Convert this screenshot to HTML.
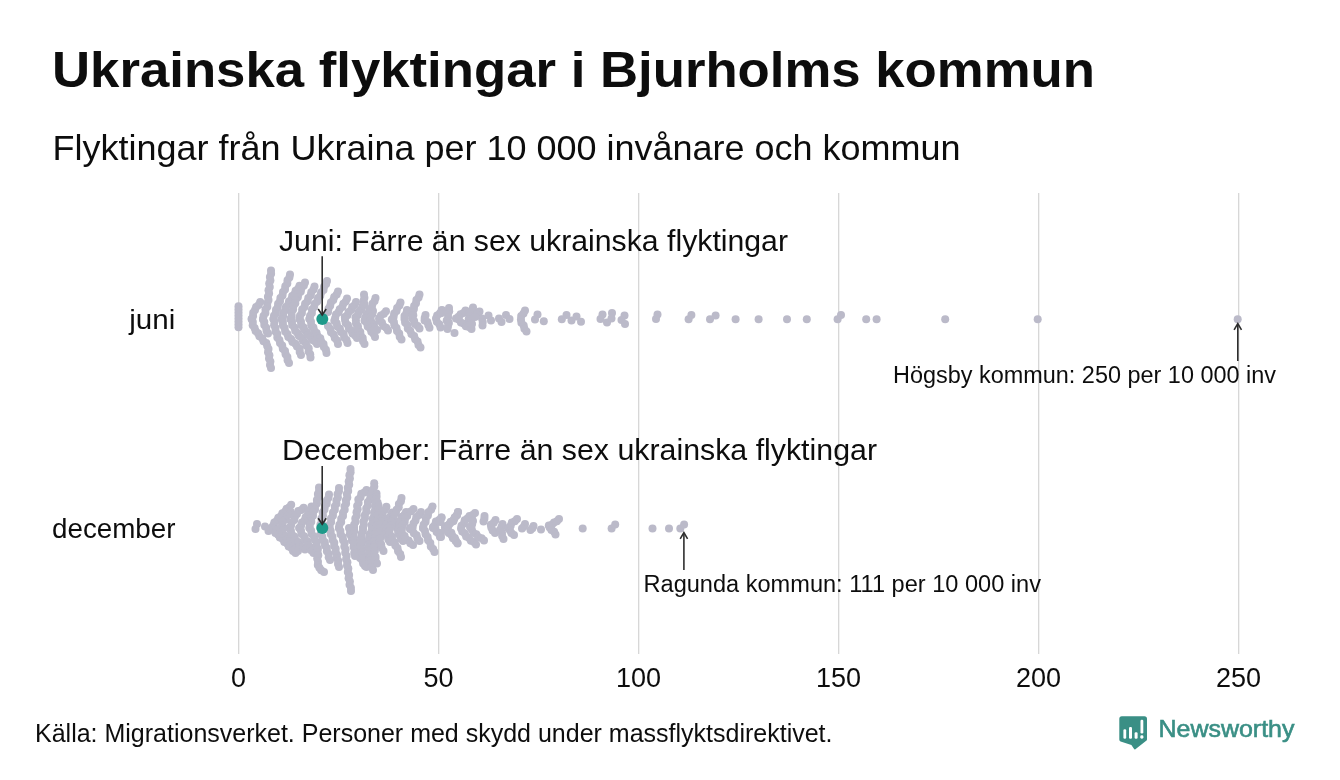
<!DOCTYPE html>
<html lang="sv">
<head>
<meta charset="utf-8">
<title>Ukrainska flyktingar i Bjurholms kommun</title>
<style>
  html, body { margin: 0; padding: 0; background: #ffffff; }
  body { width: 1340px; height: 780px; overflow: hidden; font-family: "Liberation Sans", sans-serif; }
  svg { display: block; will-change: transform; }
  text { font-family: "Liberation Sans", sans-serif; fill: #0d0d0d; }
  .grid line { stroke: #d3d3d3; stroke-width: 1.2; }
  .ann { stroke: #2e2e2e; stroke-width: 1.6; fill: none; }
  .sw { stroke: #bab9c9; stroke-width: 7.4; stroke-linecap: round; stroke-linejoin: round; fill: none; }
  .dots circle { fill: #bbbac9; }
</style>
</head>
<body>
<svg width="1340" height="780" viewBox="0 0 1340 780">
  <rect x="0" y="0" width="1340" height="780" fill="#ffffff"/>

  <!-- Title and subtitle -->
  <text x="52" y="87.4" font-size="50" font-weight="bold" textLength="1043" lengthAdjust="spacingAndGlyphs">Ukrainska flyktingar i Bjurholms kommun</text>
  <text x="52.5" y="160.4" font-size="34.5" textLength="908" lengthAdjust="spacingAndGlyphs">Flyktingar från Ukraina per 10 000 invånare och kommun</text>

  <!-- Gridlines -->
  <g class="grid">
    <line x1="238.7" y1="193" x2="238.7" y2="654"/>
    <line x1="438.7" y1="193" x2="438.7" y2="654"/>
    <line x1="638.7" y1="193" x2="638.7" y2="654"/>
    <line x1="838.7" y1="193" x2="838.7" y2="654"/>
    <line x1="1038.7" y1="193" x2="1038.7" y2="654"/>
    <line x1="1238.7" y1="193" x2="1238.7" y2="654"/>
  </g>

  <!-- X tick labels -->
  <g font-size="27" text-anchor="middle">
    <text x="238.6" y="686.5">0</text>
    <text x="438.6" y="686.5">50</text>
    <text x="638.6" y="686.5">100</text>
    <text x="838.6" y="686.5">150</text>
    <text x="1038.6" y="686.5">200</text>
    <text x="1238.6" y="686.5">250</text>
  </g>

  <!-- Row labels -->
  <text x="129.3" y="328.8" font-size="27" textLength="46" lengthAdjust="spacingAndGlyphs">juni</text>
  <text x="52" y="537.6" font-size="27" textLength="123.5" lengthAdjust="spacingAndGlyphs">december</text>

  <!-- SWARM-JUNI -->
  <g class="dots"><circle cx="260.2" cy="302.0" r="4.00"/><circle cx="258.7" cy="304.9" r="4.00"/><circle cx="256.1" cy="307.0" r="4.00"/><circle cx="255.0" cy="310.1" r="4.00"/><circle cx="253.2" cy="312.7" r="4.00"/><circle cx="253.1" cy="316.1" r="4.00"/><circle cx="251.7" cy="319.0" r="4.00"/><circle cx="251.7" cy="319.0" r="4.00"/><circle cx="252.8" cy="322.0" r="4.00"/><circle cx="252.7" cy="325.3" r="4.00"/><circle cx="254.6" cy="327.9" r="4.00"/><circle cx="255.6" cy="331.1" r="4.00"/><circle cx="258.1" cy="333.3" r="4.00"/><circle cx="259.4" cy="336.3" r="4.00"/><circle cx="262.1" cy="338.2" r="4.00"/><circle cx="263.5" cy="341.2" r="4.00"/><circle cx="266.3" cy="343.0" r="4.00"/><circle cx="267.2" cy="346.0" r="4.00"/><circle cx="268.5" cy="349.0" r="4.00"/><circle cx="268.0" cy="352.3" r="4.00"/><circle cx="269.4" cy="355.3" r="4.00"/><circle cx="269.0" cy="358.6" r="4.00"/><circle cx="270.4" cy="361.6" r="4.00"/><circle cx="270.0" cy="364.9" r="4.00"/><circle cx="271.0" cy="368.0" r="4.00"/><circle cx="271.0" cy="270.5" r="4.00"/><circle cx="271.1" cy="273.8" r="4.00"/><circle cx="269.9" cy="277.0" r="4.00"/><circle cx="270.4" cy="280.4" r="4.00"/><circle cx="269.2" cy="283.6" r="4.00"/><circle cx="269.8" cy="287.0" r="4.00"/><circle cx="268.5" cy="290.2" r="4.00"/><circle cx="269.1" cy="293.6" r="4.00"/><circle cx="267.9" cy="296.8" r="4.00"/><circle cx="268.5" cy="300.1" r="4.00"/><circle cx="267.3" cy="303.3" r="4.00"/><circle cx="267.3" cy="306.7" r="4.00"/><circle cx="265.5" cy="309.6" r="4.00"/><circle cx="265.4" cy="313.0" r="4.00"/><circle cx="263.5" cy="315.9" r="4.00"/><circle cx="263.0" cy="319.2" r="4.00"/><circle cx="263.0" cy="319.2" r="4.00"/><circle cx="264.3" cy="322.0" r="4.00"/><circle cx="264.3" cy="325.1" r="4.00"/><circle cx="266.2" cy="327.7" r="4.00"/><circle cx="266.5" cy="330.9" r="4.00"/><circle cx="268.0" cy="333.5" r="4.00"/><circle cx="290.0" cy="274.5" r="4.00"/><circle cx="289.4" cy="277.6" r="4.00"/><circle cx="287.5" cy="280.3" r="4.00"/><circle cx="287.3" cy="283.6" r="4.00"/><circle cx="285.3" cy="286.3" r="4.00"/><circle cx="285.0" cy="289.5" r="4.00"/><circle cx="283.0" cy="292.1" r="4.00"/><circle cx="282.5" cy="295.4" r="4.00"/><circle cx="280.4" cy="297.9" r="4.00"/><circle cx="280.0" cy="301.2" r="4.00"/><circle cx="278.1" cy="303.8" r="4.00"/><circle cx="277.8" cy="307.1" r="4.00"/><circle cx="276.0" cy="309.8" r="4.00"/><circle cx="275.8" cy="313.1" r="4.00"/><circle cx="274.0" cy="315.8" r="4.00"/><circle cx="273.5" cy="319.0" r="4.00"/><circle cx="273.5" cy="319.0" r="4.00"/><circle cx="274.5" cy="322.0" r="4.00"/><circle cx="274.1" cy="325.2" r="4.00"/><circle cx="275.5" cy="328.1" r="4.00"/><circle cx="275.5" cy="331.4" r="4.00"/><circle cx="277.3" cy="334.1" r="4.00"/><circle cx="277.3" cy="337.4" r="4.00"/><circle cx="279.4" cy="339.9" r="4.00"/><circle cx="280.0" cy="343.1" r="4.00"/><circle cx="282.2" cy="345.5" r="4.00"/><circle cx="282.8" cy="348.7" r="4.00"/><circle cx="285.0" cy="351.1" r="4.00"/><circle cx="285.6" cy="354.2" r="4.00"/><circle cx="287.4" cy="356.9" r="4.00"/><circle cx="287.6" cy="360.2" r="4.00"/><circle cx="289.0" cy="363.0" r="4.00"/><circle cx="299.5" cy="285.8" r="4.00"/><circle cx="298.1" cy="288.7" r="4.00"/><circle cx="295.6" cy="290.8" r="4.00"/><circle cx="294.6" cy="293.9" r="4.00"/><circle cx="292.2" cy="296.1" r="4.00"/><circle cx="291.4" cy="299.3" r="4.00"/><circle cx="289.0" cy="301.5" r="4.00"/><circle cx="288.2" cy="304.7" r="4.00"/><circle cx="285.9" cy="307.1" r="4.00"/><circle cx="285.3" cy="310.3" r="4.00"/><circle cx="283.2" cy="312.9" r="4.00"/><circle cx="283.1" cy="316.1" r="4.00"/><circle cx="281.7" cy="319.0" r="4.00"/><circle cx="281.7" cy="319.0" r="4.00"/><circle cx="282.9" cy="322.0" r="4.00"/><circle cx="282.9" cy="325.3" r="4.00"/><circle cx="284.6" cy="328.1" r="4.00"/><circle cx="285.2" cy="331.4" r="4.00"/><circle cx="287.4" cy="333.9" r="4.00"/><circle cx="288.3" cy="337.1" r="4.00"/><circle cx="291.1" cy="339.0" r="4.00"/><circle cx="292.5" cy="342.0" r="4.00"/><circle cx="295.4" cy="343.7" r="4.00"/><circle cx="297.0" cy="346.6" r="4.00"/><circle cx="299.7" cy="348.7" r="4.00"/><circle cx="299.7" cy="352.0" r="4.00"/><circle cx="301.0" cy="355.0" r="4.00"/><circle cx="305.0" cy="282.5" r="4.00"/><circle cx="303.9" cy="285.6" r="4.00"/><circle cx="301.5" cy="288.1" r="4.00"/><circle cx="300.8" cy="291.4" r="4.00"/><circle cx="298.5" cy="294.0" r="4.00"/><circle cx="297.8" cy="297.3" r="4.00"/><circle cx="295.6" cy="299.9" r="4.00"/><circle cx="295.3" cy="303.3" r="4.00"/><circle cx="293.4" cy="306.1" r="4.00"/><circle cx="293.1" cy="309.5" r="4.00"/><circle cx="291.5" cy="312.5" r="4.00"/><circle cx="291.7" cy="315.9" r="4.00"/><circle cx="290.5" cy="319.0" r="4.00"/><circle cx="290.5" cy="319.0" r="4.00"/><circle cx="292.0" cy="321.8" r="4.00"/><circle cx="292.2" cy="325.1" r="4.00"/><circle cx="294.4" cy="327.5" r="4.00"/><circle cx="295.2" cy="330.7" r="4.00"/><circle cx="297.5" cy="332.9" r="4.00"/><circle cx="298.9" cy="335.9" r="4.00"/><circle cx="301.6" cy="337.7" r="4.00"/><circle cx="302.9" cy="340.7" r="4.00"/><circle cx="305.5" cy="342.7" r="4.00"/><circle cx="306.6" cy="345.8" r="4.00"/><circle cx="308.7" cy="348.2" r="4.00"/><circle cx="308.6" cy="351.5" r="4.00"/><circle cx="310.2" cy="354.3" r="4.00"/><circle cx="310.5" cy="357.5" r="4.00"/><circle cx="314.5" cy="286.5" r="4.00"/><circle cx="313.5" cy="289.6" r="4.00"/><circle cx="311.3" cy="292.2" r="4.00"/><circle cx="310.7" cy="295.5" r="4.00"/><circle cx="308.3" cy="298.0" r="4.00"/><circle cx="307.5" cy="301.2" r="4.00"/><circle cx="305.1" cy="303.7" r="4.00"/><circle cx="304.5" cy="307.0" r="4.00"/><circle cx="302.2" cy="309.5" r="4.00"/><circle cx="301.9" cy="312.9" r="4.00"/><circle cx="300.0" cy="315.8" r="4.00"/><circle cx="299.5" cy="319.0" r="4.00"/><circle cx="299.5" cy="319.0" r="4.00"/><circle cx="301.0" cy="321.8" r="4.00"/><circle cx="301.2" cy="325.0" r="4.00"/><circle cx="303.4" cy="327.2" r="4.00"/><circle cx="304.5" cy="330.3" r="4.00"/><circle cx="307.0" cy="332.3" r="4.00"/><circle cx="308.3" cy="335.2" r="4.00"/><circle cx="311.0" cy="337.0" r="4.00"/><circle cx="312.3" cy="339.9" r="4.00"/><circle cx="315.1" cy="341.5" r="4.00"/><circle cx="317.0" cy="344.0" r="4.00"/><circle cx="327.0" cy="281.0" r="4.00"/><circle cx="326.1" cy="284.1" r="4.00"/><circle cx="324.0" cy="286.7" r="4.00"/><circle cx="323.5" cy="290.0" r="4.00"/><circle cx="321.1" cy="292.5" r="4.00"/><circle cx="320.3" cy="295.7" r="4.00"/><circle cx="318.0" cy="298.1" r="4.00"/><circle cx="317.2" cy="301.4" r="4.00"/><circle cx="314.8" cy="303.8" r="4.00"/><circle cx="314.1" cy="307.0" r="4.00"/><circle cx="312.0" cy="309.6" r="4.00"/><circle cx="311.9" cy="313.0" r="4.00"/><circle cx="310.1" cy="315.8" r="4.00"/><circle cx="309.5" cy="319.0" r="4.00"/><circle cx="309.5" cy="319.0" r="4.00"/><circle cx="311.0" cy="321.8" r="4.00"/><circle cx="311.2" cy="325.2" r="4.00"/><circle cx="313.4" cy="327.6" r="4.00"/><circle cx="314.2" cy="330.8" r="4.00"/><circle cx="316.6" cy="333.1" r="4.00"/><circle cx="317.7" cy="336.2" r="4.00"/><circle cx="320.3" cy="338.3" r="4.00"/><circle cx="321.2" cy="341.4" r="4.00"/><circle cx="323.5" cy="343.9" r="4.00"/><circle cx="323.9" cy="347.1" r="4.00"/><circle cx="325.9" cy="349.8" r="4.00"/><circle cx="326.5" cy="353.0" r="4.00"/><circle cx="338.0" cy="291.5" r="4.00"/><circle cx="336.7" cy="294.5" r="4.00"/><circle cx="334.2" cy="296.9" r="4.00"/><circle cx="333.3" cy="300.1" r="4.00"/><circle cx="330.9" cy="302.5" r="4.00"/><circle cx="330.2" cy="305.8" r="4.00"/><circle cx="328.5" cy="308.7" r="4.00"/><circle cx="328.0" cy="312.0" r="4.00"/><circle cx="328.0" cy="326.0" r="4.00"/><circle cx="330.1" cy="328.8" r="4.00"/><circle cx="331.0" cy="332.2" r="4.00"/><circle cx="333.6" cy="334.6" r="4.00"/><circle cx="334.8" cy="338.0" r="4.00"/><circle cx="337.1" cy="340.6" r="4.00"/><circle cx="338.0" cy="344.0" r="4.00"/><circle cx="347.0" cy="298.5" r="4.00"/><circle cx="345.7" cy="301.5" r="4.00"/><circle cx="343.3" cy="303.8" r="4.00"/><circle cx="342.3" cy="307.1" r="4.00"/><circle cx="339.7" cy="309.2" r="4.00"/><circle cx="338.5" cy="312.3" r="4.00"/><circle cx="336.0" cy="314.6" r="4.00"/><circle cx="335.2" cy="317.9" r="4.00"/><circle cx="334.3" cy="320.7" r="4.00"/><circle cx="336.6" cy="323.2" r="4.00"/><circle cx="337.3" cy="326.5" r="4.00"/><circle cx="339.9" cy="328.7" r="4.00"/><circle cx="341.0" cy="331.9" r="4.00"/><circle cx="343.6" cy="334.1" r="4.00"/><circle cx="344.2" cy="337.4" r="4.00"/><circle cx="346.5" cy="339.9" r="4.00"/><circle cx="347.5" cy="343.0" r="4.00"/><circle cx="356.0" cy="302.0" r="4.00"/><circle cx="354.7" cy="304.9" r="4.00"/><circle cx="352.2" cy="307.0" r="4.00"/><circle cx="351.2" cy="310.1" r="4.00"/><circle cx="348.6" cy="312.1" r="4.00"/><circle cx="347.4" cy="315.2" r="4.00"/><circle cx="344.8" cy="317.1" r="4.00"/><circle cx="345.0" cy="319.8" r="4.00"/><circle cx="345.7" cy="323.0" r="4.00"/><circle cx="348.0" cy="325.3" r="4.00"/><circle cx="348.9" cy="328.4" r="4.00"/><circle cx="351.4" cy="330.5" r="4.00"/><circle cx="352.5" cy="333.6" r="4.00"/><circle cx="355.1" cy="335.5" r="4.00"/><circle cx="357.0" cy="338.0" r="4.00"/><circle cx="364.0" cy="294.5" r="4.00"/><circle cx="364.4" cy="297.7" r="4.00"/><circle cx="363.6" cy="300.8" r="4.00"/><circle cx="364.4" cy="304.0" r="4.00"/><circle cx="362.4" cy="306.5" r="4.00"/><circle cx="361.3" cy="309.6" r="4.00"/><circle cx="358.7" cy="311.7" r="4.00"/><circle cx="357.9" cy="314.9" r="4.00"/><circle cx="355.5" cy="317.2" r="4.00"/><circle cx="355.9" cy="320.2" r="4.00"/><circle cx="356.0" cy="323.5" r="4.00"/><circle cx="357.9" cy="326.2" r="4.00"/><circle cx="358.2" cy="329.5" r="4.00"/><circle cx="360.3" cy="332.0" r="4.00"/><circle cx="360.7" cy="335.3" r="4.00"/><circle cx="362.7" cy="337.9" r="4.00"/><circle cx="363.0" cy="341.2" r="4.00"/><circle cx="364.5" cy="344.0" r="4.00"/><circle cx="375.5" cy="298.0" r="4.00"/><circle cx="374.6" cy="301.1" r="4.00"/><circle cx="372.5" cy="303.7" r="4.00"/><circle cx="371.9" cy="307.0" r="4.00"/><circle cx="369.5" cy="309.4" r="4.00"/><circle cx="368.7" cy="312.6" r="4.00"/><circle cx="366.2" cy="314.9" r="4.00"/><circle cx="365.2" cy="318.0" r="4.00"/><circle cx="364.5" cy="320.8" r="4.00"/><circle cx="366.9" cy="323.1" r="4.00"/><circle cx="367.7" cy="326.4" r="4.00"/><circle cx="370.2" cy="328.6" r="4.00"/><circle cx="371.3" cy="331.7" r="4.00"/><circle cx="373.7" cy="334.0" r="4.00"/><circle cx="375.0" cy="337.0" r="4.00"/><circle cx="373.0" cy="311.0" r="4.00"/><circle cx="372.3" cy="314.0" r="4.00"/><circle cx="370.4" cy="316.6" r="4.00"/><circle cx="370.7" cy="319.4" r="4.00"/><circle cx="371.5" cy="322.5" r="4.00"/><circle cx="373.8" cy="324.8" r="4.00"/><circle cx="374.8" cy="327.8" r="4.00"/><circle cx="377.0" cy="330.0" r="4.00"/><circle cx="386.0" cy="311.3" r="4.00"/><circle cx="383.9" cy="313.8" r="4.00"/><circle cx="380.9" cy="315.4" r="4.00"/><circle cx="379.1" cy="318.3" r="4.00"/><circle cx="379.3" cy="320.7" r="4.00"/><circle cx="382.0" cy="322.7" r="4.00"/><circle cx="383.3" cy="325.9" r="4.00"/><circle cx="386.2" cy="327.8" r="4.00"/><circle cx="388.0" cy="330.5" r="4.00"/><circle cx="400.5" cy="302.5" r="4.00"/><circle cx="399.4" cy="305.5" r="4.00"/><circle cx="397.1" cy="307.9" r="4.00"/><circle cx="396.5" cy="311.1" r="4.00"/><circle cx="394.2" cy="313.5" r="4.00"/><circle cx="393.6" cy="316.8" r="4.00"/><circle cx="391.8" cy="319.6" r="4.00"/><circle cx="393.9" cy="322.1" r="4.00"/><circle cx="394.4" cy="325.3" r="4.00"/><circle cx="396.5" cy="327.9" r="4.00"/><circle cx="397.0" cy="331.1" r="4.00"/><circle cx="399.2" cy="333.6" r="4.00"/><circle cx="399.7" cy="336.8" r="4.00"/><circle cx="401.5" cy="339.5" r="4.00"/><circle cx="407.0" cy="310.0" r="4.00"/><circle cx="406.4" cy="313.2" r="4.00"/><circle cx="404.5" cy="316.1" r="4.00"/><circle cx="404.5" cy="319.1" r="4.00"/><circle cx="405.1" cy="322.5" r="4.00"/><circle cx="407.3" cy="325.1" r="4.00"/><circle cx="407.8" cy="328.4" r="4.00"/><circle cx="410.2" cy="330.8" r="4.00"/><circle cx="411.4" cy="334.0" r="4.00"/><circle cx="414.1" cy="336.0" r="4.00"/><circle cx="415.2" cy="339.2" r="4.00"/><circle cx="417.6" cy="341.6" r="4.00"/><circle cx="418.5" cy="344.9" r="4.00"/><circle cx="420.5" cy="347.5" r="4.00"/><circle cx="419.5" cy="294.5" r="4.00"/><circle cx="418.6" cy="297.5" r="4.00"/><circle cx="416.4" cy="300.0" r="4.00"/><circle cx="416.0" cy="303.2" r="4.00"/><circle cx="414.1" cy="305.9" r="4.00"/><circle cx="413.9" cy="309.1" r="4.00"/><circle cx="412.7" cy="312.1" r="4.00"/><circle cx="413.3" cy="315.3" r="4.00"/><circle cx="412.1" cy="318.3" r="4.00"/><circle cx="414.1" cy="320.9" r="4.00"/><circle cx="414.9" cy="324.1" r="4.00"/><circle cx="417.6" cy="326.0" r="4.00"/><circle cx="419.5" cy="328.5" r="4.00"/><circle cx="425.5" cy="315.0" r="4.00"/><circle cx="424.7" cy="318.0" r="4.00"/><circle cx="424.6" cy="320.6" r="4.00"/><circle cx="427.4" cy="322.1" r="4.00"/><circle cx="428.3" cy="325.0" r="4.00"/><circle cx="429.5" cy="327.8" r="4.00"/><circle cx="441.5" cy="310.5" r="4.00"/><circle cx="439.8" cy="313.5" r="4.00"/><circle cx="437.1" cy="315.6" r="4.00"/><circle cx="436.0" cy="318.4" r="4.00"/><circle cx="436.8" cy="321.8" r="4.00"/><circle cx="439.3" cy="324.3" r="4.00"/><circle cx="440.5" cy="327.5" r="4.00"/><circle cx="449.0" cy="308.0" r="4.00"/><circle cx="449.2" cy="311.2" r="4.00"/><circle cx="448.0" cy="314.1" r="4.00"/><circle cx="448.1" cy="317.4" r="4.00"/><circle cx="446.7" cy="320.5" r="4.00"/><circle cx="448.9" cy="322.9" r="4.00"/><circle cx="448.0" cy="325.9" r="4.00"/><circle cx="447.5" cy="329.0" r="4.00"/><circle cx="442.0" cy="310.0" r="4.00"/><circle cx="441.5" cy="313.0" r="4.00"/><circle cx="465.5" cy="310.5" r="4.00"/><circle cx="463.5" cy="312.9" r="4.00"/><circle cx="460.6" cy="314.3" r="4.00"/><circle cx="458.5" cy="316.8" r="4.00"/><circle cx="456.0" cy="318.6" r="4.00"/><circle cx="459.0" cy="319.8" r="4.00"/><circle cx="460.9" cy="322.5" r="4.00"/><circle cx="463.9" cy="323.7" r="4.00"/><circle cx="465.9" cy="326.2" r="4.00"/><circle cx="469.0" cy="327.0" r="4.00"/><circle cx="471.5" cy="329.0" r="4.00"/><circle cx="473.0" cy="307.5" r="4.00"/><circle cx="471.9" cy="310.4" r="4.00"/><circle cx="469.7" cy="312.6" r="4.00"/><circle cx="469.9" cy="315.8" r="4.00"/><circle cx="468.7" cy="318.9" r="4.00"/><circle cx="470.9" cy="321.1" r="4.00"/><circle cx="472.0" cy="324.0" r="4.00"/><circle cx="479.5" cy="311.5" r="4.00"/><circle cx="477.6" cy="314.5" r="4.00"/><circle cx="475.0" cy="317.0" r="4.00"/><circle cx="482.0" cy="318.5" r="4.00"/><circle cx="482.7" cy="322.0" r="4.00"/><circle cx="482.5" cy="325.5" r="4.00"/><circle cx="525.0" cy="310.5" r="4.00"/><circle cx="523.5" cy="313.6" r="4.00"/><circle cx="521.2" cy="316.1" r="4.00"/><circle cx="520.9" cy="319.6" r="4.00"/><circle cx="521.4" cy="322.7" r="4.00"/><circle cx="523.7" cy="325.4" r="4.00"/><circle cx="524.4" cy="328.8" r="4.00"/><circle cx="526.5" cy="331.5" r="4.00"/><circle cx="238.5" cy="306.3" r="4.00"/><circle cx="238.5" cy="309.3" r="4.00"/><circle cx="238.5" cy="312.3" r="4.00"/><circle cx="238.5" cy="315.3" r="4.00"/><circle cx="238.5" cy="318.3" r="4.00"/><circle cx="238.5" cy="321.3" r="4.00"/><circle cx="238.5" cy="324.3" r="4.00"/><circle cx="238.5" cy="327.3" r="4.00"/><circle cx="454.5" cy="333.0" r="4.00"/><circle cx="488.5" cy="315.5" r="4.00"/><circle cx="491.0" cy="320.5" r="4.00"/><circle cx="499.0" cy="318.5" r="4.00"/><circle cx="501.5" cy="322.0" r="4.00"/><circle cx="506.0" cy="315.0" r="4.00"/><circle cx="509.5" cy="319.0" r="4.00"/><circle cx="537.5" cy="314.5" r="4.00"/><circle cx="535.0" cy="319.5" r="4.00"/><circle cx="543.8" cy="321.2" r="4.00"/><circle cx="561.8" cy="319.3" r="4.00"/><circle cx="566.5" cy="315.0" r="4.00"/><circle cx="571.5" cy="320.5" r="4.00"/><circle cx="576.5" cy="316.5" r="4.00"/><circle cx="581.0" cy="321.8" r="4.00"/><circle cx="600.5" cy="319.0" r="4.00"/><circle cx="602.5" cy="314.5" r="4.00"/><circle cx="607.0" cy="322.5" r="4.00"/><circle cx="612.0" cy="313.0" r="4.00"/><circle cx="611.5" cy="318.5" r="4.00"/><circle cx="624.5" cy="315.5" r="4.00"/><circle cx="621.5" cy="320.0" r="4.00"/><circle cx="625.0" cy="324.0" r="4.00"/><circle cx="657.5" cy="314.5" r="4.00"/><circle cx="656.0" cy="319.0" r="4.00"/><circle cx="688.6" cy="319.2" r="4.00"/><circle cx="691.4" cy="315.0" r="4.00"/><circle cx="710.0" cy="319.2" r="4.00"/><circle cx="715.6" cy="315.4" r="4.00"/><circle cx="735.6" cy="319.2" r="4.00"/><circle cx="758.6" cy="319.2" r="4.00"/><circle cx="787.0" cy="319.2" r="4.00"/><circle cx="806.8" cy="319.2" r="4.00"/><circle cx="837.6" cy="319.2" r="4.00"/><circle cx="841.0" cy="315.0" r="4.00"/><circle cx="866.2" cy="319.2" r="4.00"/><circle cx="876.6" cy="319.2" r="4.00"/><circle cx="945.2" cy="319.2" r="4.00"/><circle cx="1037.7" cy="319.2" r="4.00"/><circle cx="1237.7" cy="319.2" r="4.00"/></g>
  <!-- /SWARM-JUNI -->
  <!-- SWARM-DEC -->
  <g class="dots"><circle cx="291.2" cy="504.8" r="4.00"/><circle cx="289.4" cy="507.3" r="4.00"/><circle cx="286.6" cy="508.8" r="4.00"/><circle cx="285.1" cy="511.6" r="4.00"/><circle cx="282.4" cy="513.3" r="4.00"/><circle cx="281.0" cy="516.1" r="4.00"/><circle cx="278.3" cy="517.8" r="4.00"/><circle cx="276.9" cy="520.7" r="4.00"/><circle cx="274.3" cy="522.5" r="4.00"/><circle cx="273.3" cy="525.5" r="4.00"/><circle cx="271.5" cy="528.0" r="4.00"/><circle cx="271.5" cy="528.0" r="4.00"/><circle cx="273.9" cy="530.0" r="4.00"/><circle cx="275.4" cy="533.0" r="4.00"/><circle cx="278.1" cy="534.7" r="4.00"/><circle cx="279.8" cy="537.5" r="4.00"/><circle cx="282.7" cy="539.1" r="4.00"/><circle cx="284.3" cy="542.0" r="4.00"/><circle cx="287.2" cy="543.5" r="4.00"/><circle cx="288.7" cy="546.4" r="4.00"/><circle cx="291.5" cy="548.1" r="4.00"/><circle cx="293.0" cy="551.0" r="4.00"/><circle cx="295.5" cy="553.0" r="4.00"/><circle cx="290.5" cy="511.5" r="4.00"/><circle cx="289.0" cy="514.4" r="4.00"/><circle cx="286.4" cy="516.5" r="4.00"/><circle cx="285.2" cy="519.7" r="4.00"/><circle cx="282.6" cy="521.9" r="4.00"/><circle cx="282.2" cy="525.2" r="4.00"/><circle cx="280.5" cy="528.0" r="4.00"/><circle cx="280.5" cy="528.0" r="4.00"/><circle cx="282.3" cy="530.7" r="4.00"/><circle cx="283.0" cy="534.0" r="4.00"/><circle cx="285.7" cy="536.1" r="4.00"/><circle cx="287.0" cy="539.2" r="4.00"/><circle cx="289.7" cy="541.1" r="4.00"/><circle cx="291.1" cy="544.2" r="4.00"/><circle cx="293.8" cy="546.1" r="4.00"/><circle cx="295.4" cy="549.0" r="4.00"/><circle cx="298.0" cy="551.0" r="4.00"/><circle cx="303.6" cy="507.7" r="4.00"/><circle cx="301.3" cy="510.0" r="4.00"/><circle cx="298.2" cy="511.1" r="4.00"/><circle cx="297.0" cy="514.1" r="4.00"/><circle cx="294.9" cy="516.7" r="4.00"/><circle cx="294.3" cy="520.0" r="4.00"/><circle cx="291.8" cy="522.2" r="4.00"/><circle cx="291.0" cy="525.4" r="4.00"/><circle cx="289.0" cy="528.0" r="4.00"/><circle cx="289.0" cy="528.0" r="4.00"/><circle cx="290.9" cy="530.8" r="4.00"/><circle cx="291.7" cy="534.3" r="4.00"/><circle cx="294.3" cy="536.6" r="4.00"/><circle cx="295.5" cy="539.9" r="4.00"/><circle cx="298.2" cy="542.0" r="4.00"/><circle cx="299.8" cy="545.1" r="4.00"/><circle cx="302.7" cy="547.0" r="4.00"/><circle cx="305.0" cy="549.5" r="4.00"/><circle cx="311.5" cy="506.5" r="4.00"/><circle cx="310.5" cy="509.5" r="4.00"/><circle cx="308.3" cy="511.9" r="4.00"/><circle cx="307.8" cy="515.0" r="4.00"/><circle cx="305.6" cy="517.3" r="4.00"/><circle cx="304.6" cy="520.4" r="4.00"/><circle cx="302.0" cy="522.4" r="4.00"/><circle cx="301.1" cy="525.4" r="4.00"/><circle cx="299.3" cy="528.0" r="4.00"/><circle cx="299.3" cy="528.0" r="4.00"/><circle cx="301.0" cy="530.7" r="4.00"/><circle cx="301.5" cy="534.0" r="4.00"/><circle cx="304.1" cy="536.2" r="4.00"/><circle cx="305.1" cy="539.4" r="4.00"/><circle cx="307.7" cy="541.6" r="4.00"/><circle cx="308.3" cy="544.9" r="4.00"/><circle cx="310.6" cy="547.3" r="4.00"/><circle cx="311.4" cy="550.5" r="4.00"/><circle cx="313.5" cy="553.0" r="4.00"/><circle cx="319.0" cy="487.5" r="4.00"/><circle cx="319.1" cy="490.7" r="4.00"/><circle cx="317.9" cy="493.9" r="4.00"/><circle cx="318.5" cy="497.1" r="4.00"/><circle cx="316.9" cy="500.1" r="4.00"/><circle cx="316.9" cy="503.4" r="4.00"/><circle cx="315.1" cy="506.2" r="4.00"/><circle cx="315.0" cy="509.6" r="4.00"/><circle cx="313.1" cy="512.3" r="4.00"/><circle cx="313.0" cy="515.7" r="4.00"/><circle cx="311.2" cy="518.5" r="4.00"/><circle cx="311.3" cy="521.8" r="4.00"/><circle cx="309.8" cy="524.8" r="4.00"/><circle cx="309.5" cy="528.0" r="4.00"/><circle cx="309.5" cy="528.0" r="4.00"/><circle cx="311.2" cy="530.8" r="4.00"/><circle cx="311.6" cy="534.1" r="4.00"/><circle cx="314.0" cy="536.5" r="4.00"/><circle cx="314.8" cy="539.8" r="4.00"/><circle cx="316.8" cy="542.4" r="4.00"/><circle cx="316.5" cy="545.7" r="4.00"/><circle cx="317.9" cy="548.8" r="4.00"/><circle cx="317.5" cy="552.0" r="4.00"/><circle cx="318.3" cy="555.3" r="4.00"/><circle cx="317.2" cy="558.4" r="4.00"/><circle cx="318.0" cy="561.7" r="4.00"/><circle cx="317.8" cy="564.9" r="4.00"/><circle cx="319.4" cy="567.8" r="4.00"/><circle cx="321.2" cy="570.3" r="4.00"/><circle cx="324.0" cy="572.0" r="4.00"/><circle cx="329.0" cy="494.5" r="4.00"/><circle cx="328.5" cy="497.7" r="4.00"/><circle cx="326.8" cy="500.4" r="4.00"/><circle cx="326.7" cy="503.7" r="4.00"/><circle cx="324.8" cy="506.4" r="4.00"/><circle cx="324.5" cy="509.6" r="4.00"/><circle cx="322.7" cy="512.4" r="4.00"/><circle cx="322.9" cy="515.7" r="4.00"/><circle cx="321.4" cy="518.5" r="4.00"/><circle cx="321.7" cy="521.8" r="4.00"/><circle cx="320.4" cy="524.8" r="4.00"/><circle cx="320.5" cy="528.0" r="4.00"/><circle cx="320.5" cy="534.0" r="4.00"/><circle cx="322.2" cy="536.6" r="4.00"/><circle cx="322.8" cy="539.8" r="4.00"/><circle cx="324.8" cy="542.2" r="4.00"/><circle cx="325.0" cy="545.4" r="4.00"/><circle cx="326.8" cy="548.1" r="4.00"/><circle cx="326.9" cy="551.3" r="4.00"/><circle cx="328.7" cy="554.0" r="4.00"/><circle cx="328.7" cy="557.2" r="4.00"/><circle cx="330.0" cy="560.0" r="4.00"/><circle cx="339.0" cy="488.0" r="4.00"/><circle cx="338.9" cy="491.2" r="4.00"/><circle cx="337.5" cy="494.2" r="4.00"/><circle cx="337.9" cy="497.5" r="4.00"/><circle cx="336.4" cy="500.4" r="4.00"/><circle cx="336.5" cy="503.7" r="4.00"/><circle cx="334.8" cy="506.5" r="4.00"/><circle cx="334.8" cy="509.8" r="4.00"/><circle cx="333.0" cy="512.5" r="4.00"/><circle cx="332.9" cy="515.8" r="4.00"/><circle cx="331.0" cy="518.6" r="4.00"/><circle cx="331.1" cy="521.9" r="4.00"/><circle cx="329.6" cy="524.8" r="4.00"/><circle cx="329.5" cy="528.0" r="4.00"/><circle cx="329.5" cy="528.0" r="4.00"/><circle cx="330.7" cy="530.9" r="4.00"/><circle cx="330.6" cy="534.1" r="4.00"/><circle cx="332.4" cy="536.8" r="4.00"/><circle cx="332.6" cy="540.0" r="4.00"/><circle cx="334.3" cy="542.7" r="4.00"/><circle cx="334.1" cy="545.9" r="4.00"/><circle cx="335.7" cy="548.7" r="4.00"/><circle cx="335.5" cy="551.9" r="4.00"/><circle cx="337.0" cy="554.8" r="4.00"/><circle cx="336.7" cy="558.0" r="4.00"/><circle cx="338.2" cy="560.8" r="4.00"/><circle cx="338.0" cy="564.1" r="4.00"/><circle cx="339.0" cy="567.0" r="4.00"/><circle cx="350.5" cy="469.0" r="4.00"/><circle cx="350.6" cy="472.2" r="4.00"/><circle cx="349.4" cy="475.3" r="4.00"/><circle cx="349.9" cy="478.5" r="4.00"/><circle cx="348.7" cy="481.6" r="4.00"/><circle cx="349.2" cy="484.8" r="4.00"/><circle cx="347.8" cy="487.8" r="4.00"/><circle cx="348.2" cy="491.1" r="4.00"/><circle cx="346.9" cy="494.1" r="4.00"/><circle cx="347.3" cy="497.4" r="4.00"/><circle cx="345.9" cy="500.3" r="4.00"/><circle cx="346.1" cy="503.6" r="4.00"/><circle cx="344.5" cy="506.5" r="4.00"/><circle cx="344.7" cy="509.8" r="4.00"/><circle cx="343.0" cy="512.7" r="4.00"/><circle cx="343.0" cy="516.0" r="4.00"/><circle cx="341.2" cy="518.7" r="4.00"/><circle cx="341.2" cy="522.0" r="4.00"/><circle cx="339.4" cy="524.8" r="4.00"/><circle cx="339.0" cy="528.0" r="4.00"/><circle cx="339.0" cy="528.0" r="4.00"/><circle cx="340.4" cy="530.9" r="4.00"/><circle cx="340.6" cy="534.3" r="4.00"/><circle cx="342.7" cy="536.9" r="4.00"/><circle cx="343.1" cy="540.2" r="4.00"/><circle cx="344.7" cy="543.1" r="4.00"/><circle cx="344.3" cy="546.4" r="4.00"/><circle cx="345.6" cy="549.5" r="4.00"/><circle cx="345.2" cy="552.8" r="4.00"/><circle cx="346.6" cy="555.9" r="4.00"/><circle cx="346.1" cy="559.2" r="4.00"/><circle cx="347.4" cy="562.2" r="4.00"/><circle cx="347.0" cy="565.6" r="4.00"/><circle cx="348.3" cy="568.6" r="4.00"/><circle cx="347.8" cy="571.9" r="4.00"/><circle cx="349.1" cy="575.0" r="4.00"/><circle cx="348.6" cy="578.3" r="4.00"/><circle cx="349.9" cy="581.4" r="4.00"/><circle cx="349.5" cy="584.7" r="4.00"/><circle cx="350.9" cy="587.7" r="4.00"/><circle cx="351.0" cy="591.0" r="4.00"/><circle cx="349.0" cy="528.0" r="4.00"/><circle cx="350.1" cy="531.0" r="4.00"/><circle cx="349.9" cy="534.3" r="4.00"/><circle cx="351.5" cy="537.2" r="4.00"/><circle cx="351.9" cy="540.5" r="4.00"/><circle cx="353.9" cy="543.1" r="4.00"/><circle cx="354.3" cy="546.4" r="4.00"/><circle cx="356.4" cy="548.9" r="4.00"/><circle cx="357.1" cy="552.1" r="4.00"/><circle cx="359.3" cy="554.6" r="4.00"/><circle cx="360.0" cy="557.9" r="4.00"/><circle cx="362.3" cy="560.2" r="4.00"/><circle cx="363.1" cy="563.4" r="4.00"/><circle cx="365.0" cy="566.0" r="4.00"/><circle cx="366.5" cy="490.1" r="4.00"/><circle cx="364.3" cy="492.5" r="4.00"/><circle cx="361.3" cy="493.8" r="4.00"/><circle cx="360.5" cy="497.2" r="4.00"/><circle cx="358.3" cy="499.6" r="4.00"/><circle cx="358.6" cy="503.0" r="4.00"/><circle cx="357.1" cy="506.0" r="4.00"/><circle cx="357.7" cy="509.3" r="4.00"/><circle cx="356.5" cy="512.3" r="4.00"/><circle cx="356.8" cy="515.6" r="4.00"/><circle cx="355.3" cy="518.5" r="4.00"/><circle cx="355.6" cy="521.8" r="4.00"/><circle cx="354.1" cy="524.8" r="4.00"/><circle cx="354.0" cy="528.0" r="4.00"/><circle cx="354.0" cy="528.0" r="4.00"/><circle cx="354.3" cy="531.1" r="4.00"/><circle cx="353.2" cy="534.2" r="4.00"/><circle cx="354.0" cy="537.4" r="4.00"/><circle cx="353.2" cy="540.5" r="4.00"/><circle cx="354.2" cy="543.6" r="4.00"/><circle cx="353.5" cy="546.7" r="4.00"/><circle cx="354.7" cy="549.8" r="4.00"/><circle cx="354.2" cy="553.0" r="4.00"/><circle cx="355.0" cy="556.0" r="4.00"/><circle cx="374.2" cy="483.3" r="4.00"/><circle cx="374.3" cy="486.6" r="4.00"/><circle cx="372.9" cy="489.7" r="4.00"/><circle cx="372.5" cy="493.1" r="4.00"/><circle cx="370.5" cy="495.8" r="4.00"/><circle cx="370.0" cy="499.2" r="4.00"/><circle cx="367.9" cy="501.9" r="4.00"/><circle cx="367.8" cy="505.4" r="4.00"/><circle cx="366.2" cy="508.4" r="4.00"/><circle cx="366.4" cy="511.8" r="4.00"/><circle cx="364.9" cy="514.9" r="4.00"/><circle cx="365.0" cy="518.3" r="4.00"/><circle cx="363.5" cy="521.4" r="4.00"/><circle cx="363.9" cy="524.8" r="4.00"/><circle cx="363.0" cy="528.0" r="4.00"/><circle cx="363.0" cy="528.0" r="4.00"/><circle cx="362.9" cy="531.1" r="4.00"/><circle cx="361.5" cy="534.0" r="4.00"/><circle cx="361.9" cy="537.1" r="4.00"/><circle cx="360.9" cy="540.2" r="4.00"/><circle cx="361.7" cy="543.3" r="4.00"/><circle cx="360.6" cy="546.3" r="4.00"/><circle cx="361.7" cy="549.3" r="4.00"/><circle cx="361.4" cy="552.5" r="4.00"/><circle cx="362.8" cy="555.4" r="4.00"/><circle cx="362.5" cy="558.6" r="4.00"/><circle cx="364.4" cy="561.2" r="4.00"/><circle cx="364.9" cy="564.4" r="4.00"/><circle cx="366.5" cy="567.0" r="4.00"/><circle cx="376.5" cy="493.6" r="4.00"/><circle cx="376.6" cy="496.8" r="4.00"/><circle cx="375.3" cy="499.8" r="4.00"/><circle cx="376.0" cy="503.1" r="4.00"/><circle cx="375.0" cy="506.2" r="4.00"/><circle cx="375.5" cy="509.4" r="4.00"/><circle cx="374.0" cy="512.3" r="4.00"/><circle cx="374.3" cy="515.6" r="4.00"/><circle cx="372.8" cy="518.5" r="4.00"/><circle cx="373.0" cy="521.8" r="4.00"/><circle cx="371.8" cy="524.8" r="4.00"/><circle cx="372.0" cy="528.0" r="4.00"/><circle cx="372.0" cy="528.0" r="4.00"/><circle cx="371.5" cy="531.3" r="4.00"/><circle cx="369.7" cy="534.2" r="4.00"/><circle cx="369.6" cy="537.7" r="4.00"/><circle cx="368.4" cy="540.8" r="4.00"/><circle cx="369.2" cy="544.1" r="4.00"/><circle cx="368.2" cy="547.4" r="4.00"/><circle cx="369.0" cy="550.7" r="4.00"/><circle cx="368.6" cy="554.1" r="4.00"/><circle cx="369.9" cy="557.3" r="4.00"/><circle cx="369.4" cy="560.7" r="4.00"/><circle cx="371.1" cy="563.6" r="4.00"/><circle cx="371.4" cy="567.1" r="4.00"/><circle cx="373.0" cy="570.0" r="4.00"/><circle cx="377.6" cy="502.5" r="4.00"/><circle cx="378.5" cy="505.6" r="4.00"/><circle cx="378.1" cy="508.9" r="4.00"/><circle cx="378.9" cy="512.1" r="4.00"/><circle cx="377.8" cy="515.2" r="4.00"/><circle cx="378.3" cy="518.5" r="4.00"/><circle cx="376.9" cy="521.6" r="4.00"/><circle cx="377.4" cy="524.9" r="4.00"/><circle cx="376.5" cy="528.0" r="4.00"/><circle cx="376.5" cy="528.0" r="4.00"/><circle cx="376.5" cy="531.3" r="4.00"/><circle cx="375.1" cy="534.4" r="4.00"/><circle cx="375.6" cy="537.8" r="4.00"/><circle cx="374.2" cy="540.9" r="4.00"/><circle cx="374.9" cy="544.2" r="4.00"/><circle cx="374.1" cy="547.5" r="4.00"/><circle cx="374.9" cy="550.8" r="4.00"/><circle cx="374.1" cy="554.0" r="4.00"/><circle cx="375.6" cy="557.1" r="4.00"/><circle cx="375.6" cy="560.5" r="4.00"/><circle cx="377.0" cy="563.5" r="4.00"/><circle cx="386.4" cy="506.8" r="4.00"/><circle cx="385.0" cy="509.7" r="4.00"/><circle cx="382.5" cy="512.1" r="4.00"/><circle cx="382.6" cy="515.4" r="4.00"/><circle cx="381.0" cy="518.4" r="4.00"/><circle cx="381.3" cy="521.7" r="4.00"/><circle cx="380.0" cy="524.8" r="4.00"/><circle cx="380.0" cy="528.0" r="4.00"/><circle cx="380.0" cy="528.0" r="4.00"/><circle cx="380.2" cy="531.4" r="4.00"/><circle cx="379.1" cy="534.7" r="4.00"/><circle cx="380.2" cy="538.1" r="4.00"/><circle cx="379.7" cy="541.5" r="4.00"/><circle cx="381.2" cy="544.6" r="4.00"/><circle cx="381.8" cy="548.1" r="4.00"/><circle cx="383.5" cy="551.0" r="4.00"/><circle cx="392.0" cy="512.5" r="4.00"/><circle cx="390.8" cy="515.7" r="4.00"/><circle cx="388.4" cy="518.3" r="4.00"/><circle cx="387.8" cy="521.8" r="4.00"/><circle cx="385.8" cy="524.7" r="4.00"/><circle cx="385.0" cy="528.0" r="4.00"/><circle cx="385.0" cy="528.0" r="4.00"/><circle cx="386.2" cy="530.8" r="4.00"/><circle cx="386.0" cy="533.9" r="4.00"/><circle cx="387.7" cy="536.4" r="4.00"/><circle cx="388.3" cy="539.5" r="4.00"/><circle cx="390.0" cy="542.0" r="4.00"/><circle cx="406.0" cy="512.0" r="4.00"/><circle cx="404.5" cy="514.7" r="4.00"/><circle cx="401.9" cy="516.7" r="4.00"/><circle cx="400.8" cy="519.7" r="4.00"/><circle cx="398.7" cy="522.1" r="4.00"/><circle cx="398.5" cy="525.3" r="4.00"/><circle cx="397.0" cy="528.0" r="4.00"/><circle cx="397.0" cy="528.0" r="4.00"/><circle cx="398.2" cy="530.7" r="4.00"/><circle cx="398.2" cy="533.7" r="4.00"/><circle cx="400.2" cy="535.9" r="4.00"/><circle cx="401.0" cy="538.8" r="4.00"/><circle cx="403.0" cy="541.0" r="4.00"/><circle cx="401.5" cy="498.0" r="4.00"/><circle cx="400.9" cy="501.2" r="4.00"/><circle cx="398.9" cy="503.9" r="4.00"/><circle cx="398.7" cy="507.3" r="4.00"/><circle cx="396.6" cy="509.8" r="4.00"/><circle cx="395.9" cy="513.1" r="4.00"/><circle cx="393.7" cy="515.6" r="4.00"/><circle cx="393.4" cy="519.0" r="4.00"/><circle cx="391.4" cy="521.7" r="4.00"/><circle cx="391.2" cy="525.0" r="4.00"/><circle cx="390.0" cy="528.0" r="4.00"/><circle cx="388.0" cy="528.0" r="4.00"/><circle cx="389.4" cy="530.9" r="4.00"/><circle cx="389.6" cy="534.2" r="4.00"/><circle cx="391.8" cy="536.7" r="4.00"/><circle cx="392.5" cy="539.9" r="4.00"/><circle cx="394.7" cy="542.4" r="4.00"/><circle cx="395.3" cy="545.6" r="4.00"/><circle cx="397.5" cy="548.1" r="4.00"/><circle cx="398.1" cy="551.3" r="4.00"/><circle cx="400.2" cy="553.9" r="4.00"/><circle cx="401.0" cy="557.0" r="4.00"/><circle cx="413.5" cy="509.0" r="4.00"/><circle cx="411.1" cy="511.3" r="4.00"/><circle cx="407.9" cy="512.5" r="4.00"/><circle cx="407.2" cy="516.0" r="4.00"/><circle cx="405.1" cy="518.6" r="4.00"/><circle cx="404.7" cy="522.0" r="4.00"/><circle cx="402.7" cy="524.8" r="4.00"/><circle cx="402.0" cy="528.0" r="4.00"/><circle cx="400.0" cy="528.0" r="4.00"/><circle cx="401.6" cy="530.7" r="4.00"/><circle cx="402.1" cy="534.0" r="4.00"/><circle cx="404.6" cy="536.0" r="4.00"/><circle cx="405.6" cy="539.1" r="4.00"/><circle cx="408.6" cy="540.6" r="4.00"/><circle cx="410.3" cy="543.3" r="4.00"/><circle cx="413.0" cy="545.0" r="4.00"/><circle cx="421.0" cy="512.0" r="4.00"/><circle cx="419.1" cy="514.9" r="4.00"/><circle cx="416.3" cy="517.0" r="4.00"/><circle cx="415.5" cy="520.5" r="4.00"/><circle cx="413.5" cy="523.4" r="4.00"/><circle cx="412.7" cy="526.9" r="4.00"/><circle cx="410.0" cy="529.0" r="4.00"/><circle cx="410.0" cy="528.0" r="4.00"/><circle cx="412.4" cy="530.2" r="4.00"/><circle cx="413.9" cy="533.2" r="4.00"/><circle cx="416.6" cy="535.2" r="4.00"/><circle cx="417.5" cy="538.4" r="4.00"/><circle cx="419.5" cy="541.0" r="4.00"/><circle cx="432.5" cy="506.5" r="4.00"/><circle cx="431.2" cy="509.6" r="4.00"/><circle cx="428.6" cy="512.1" r="4.00"/><circle cx="427.9" cy="515.4" r="4.00"/><circle cx="425.9" cy="518.3" r="4.00"/><circle cx="425.6" cy="521.8" r="4.00"/><circle cx="423.6" cy="524.7" r="4.00"/><circle cx="423.0" cy="528.0" r="4.00"/><circle cx="423.0" cy="528.0" r="4.00"/><circle cx="424.9" cy="530.8" r="4.00"/><circle cx="425.6" cy="534.2" r="4.00"/><circle cx="427.6" cy="536.9" r="4.00"/><circle cx="428.1" cy="540.3" r="4.00"/><circle cx="430.3" cy="543.0" r="4.00"/><circle cx="430.8" cy="546.4" r="4.00"/><circle cx="433.1" cy="548.9" r="4.00"/><circle cx="434.5" cy="552.0" r="4.00"/><circle cx="441.5" cy="517.5" r="4.00"/><circle cx="439.1" cy="520.0" r="4.00"/><circle cx="435.9" cy="521.5" r="4.00"/><circle cx="434.9" cy="525.1" r="4.00"/><circle cx="433.0" cy="528.0" r="4.00"/><circle cx="433.0" cy="527.0" r="4.00"/><circle cx="435.3" cy="529.1" r="4.00"/><circle cx="436.6" cy="532.0" r="4.00"/><circle cx="439.0" cy="534.1" r="4.00"/><circle cx="440.0" cy="537.0" r="4.00"/><circle cx="458.0" cy="512.0" r="4.00"/><circle cx="456.9" cy="515.2" r="4.00"/><circle cx="454.6" cy="517.9" r="4.00"/><circle cx="453.4" cy="521.2" r="4.00"/><circle cx="450.4" cy="523.0" r="4.00"/><circle cx="448.2" cy="525.6" r="4.00"/><circle cx="445.0" cy="527.0" r="4.00"/><circle cx="445.0" cy="527.5" r="4.00"/><circle cx="447.4" cy="529.9" r="4.00"/><circle cx="448.7" cy="533.0" r="4.00"/><circle cx="451.5" cy="535.1" r="4.00"/><circle cx="452.9" cy="538.2" r="4.00"/><circle cx="455.7" cy="540.2" r="4.00"/><circle cx="457.5" cy="543.0" r="4.00"/><circle cx="458.0" cy="512.0" r="4.00"/><circle cx="457.0" cy="515.0" r="4.00"/><circle cx="454.8" cy="517.3" r="4.00"/><circle cx="453.5" cy="520.1" r="4.00"/><circle cx="450.7" cy="521.7" r="4.00"/><circle cx="449.1" cy="524.5" r="4.00"/><circle cx="446.3" cy="526.1" r="4.00"/><circle cx="446.9" cy="528.3" r="4.00"/><circle cx="448.5" cy="531.1" r="4.00"/><circle cx="451.3" cy="532.7" r="4.00"/><circle cx="452.3" cy="535.8" r="4.00"/><circle cx="454.8" cy="537.9" r="4.00"/><circle cx="455.6" cy="541.0" r="4.00"/><circle cx="457.5" cy="543.5" r="4.00"/><circle cx="441.5" cy="517.5" r="4.00"/><circle cx="440.5" cy="522.0" r="4.00"/><circle cx="441.0" cy="533.0" r="4.00"/><circle cx="441.0" cy="537.0" r="4.00"/><circle cx="475.0" cy="513.0" r="4.00"/><circle cx="472.6" cy="515.1" r="4.00"/><circle cx="469.5" cy="516.1" r="4.00"/><circle cx="467.4" cy="518.6" r="4.00"/><circle cx="464.7" cy="520.3" r="4.00"/><circle cx="463.9" cy="523.5" r="4.00"/><circle cx="461.5" cy="525.8" r="4.00"/><circle cx="461.0" cy="528.5" r="4.00"/><circle cx="462.2" cy="531.5" r="4.00"/><circle cx="464.9" cy="533.5" r="4.00"/><circle cx="466.1" cy="536.5" r="4.00"/><circle cx="469.0" cy="538.1" r="4.00"/><circle cx="470.9" cy="540.8" r="4.00"/><circle cx="473.9" cy="542.1" r="4.00"/><circle cx="476.0" cy="544.5" r="4.00"/><circle cx="473.0" cy="521.0" r="4.00"/><circle cx="472.1" cy="524.2" r="4.00"/><circle cx="470.0" cy="526.9" r="4.00"/><circle cx="471.8" cy="529.5" r="4.00"/><circle cx="473.2" cy="532.7" r="4.00"/><circle cx="476.3" cy="534.2" r="4.00"/><circle cx="478.4" cy="536.9" r="4.00"/><circle cx="481.6" cy="538.2" r="4.00"/><circle cx="484.0" cy="540.5" r="4.00"/><circle cx="484.5" cy="516.0" r="4.00"/><circle cx="484.4" cy="518.8" r="4.00"/><circle cx="483.5" cy="521.5" r="4.00"/><circle cx="495.5" cy="520.0" r="4.00"/><circle cx="493.7" cy="522.8" r="4.00"/><circle cx="490.8" cy="524.8" r="4.00"/><circle cx="491.3" cy="527.4" r="4.00"/><circle cx="492.6" cy="530.6" r="4.00"/><circle cx="495.0" cy="533.0" r="4.00"/><circle cx="502.5" cy="524.0" r="4.00"/><circle cx="501.5" cy="527.1" r="4.00"/><circle cx="499.9" cy="530.0" r="4.00"/><circle cx="502.0" cy="532.7" r="4.00"/><circle cx="502.1" cy="536.0" r="4.00"/><circle cx="503.5" cy="539.0" r="4.00"/><circle cx="517.0" cy="519.0" r="4.00"/><circle cx="514.8" cy="521.3" r="4.00"/><circle cx="511.8" cy="522.6" r="4.00"/><circle cx="510.7" cy="525.8" r="4.00"/><circle cx="508.2" cy="527.9" r="4.00"/><circle cx="509.9" cy="530.2" r="4.00"/><circle cx="511.4" cy="533.1" r="4.00"/><circle cx="514.0" cy="535.0" r="4.00"/><circle cx="525.0" cy="524.0" r="4.00"/><circle cx="523.9" cy="526.5" r="4.00"/><circle cx="522.0" cy="528.5" r="4.00"/><circle cx="533.5" cy="526.0" r="4.00"/><circle cx="532.4" cy="528.3" r="4.00"/><circle cx="530.5" cy="530.0" r="4.00"/><circle cx="559.0" cy="519.0" r="4.00"/><circle cx="556.9" cy="521.3" r="4.00"/><circle cx="554.0" cy="522.5" r="4.00"/><circle cx="551.9" cy="524.8" r="4.00"/><circle cx="548.8" cy="525.5" r="4.00"/><circle cx="549.7" cy="527.4" r="4.00"/><circle cx="551.4" cy="530.1" r="4.00"/><circle cx="554.1" cy="531.8" r="4.00"/><circle cx="555.5" cy="534.5" r="4.00"/><circle cx="257.0" cy="524.0" r="4.00"/><circle cx="255.5" cy="529.0" r="4.00"/><circle cx="265.0" cy="526.5" r="4.00"/><circle cx="268.5" cy="531.0" r="4.00"/><circle cx="541.0" cy="529.5" r="4.00"/><circle cx="582.7" cy="528.4" r="4.00"/><circle cx="611.6" cy="528.4" r="4.00"/><circle cx="615.2" cy="524.6" r="4.00"/><circle cx="652.5" cy="528.4" r="4.00"/><circle cx="669.0" cy="528.4" r="4.00"/><circle cx="680.3" cy="528.4" r="4.00"/><circle cx="684.1" cy="524.6" r="4.00"/></g>
  <!-- /SWARM-DEC -->

  <!-- Highlight dots -->
  <circle cx="322.3" cy="319" r="6" fill="#1f9a8a"/>
  <circle cx="322.3" cy="528" r="6" fill="#1f9a8a"/>

  <!-- Annotation labels -->
  <text x="279" y="250.7" font-size="29" textLength="509" lengthAdjust="spacingAndGlyphs">Juni: Färre än sex ukrainska flyktingar</text>
  <text x="282" y="460.1" font-size="29" textLength="595" lengthAdjust="spacingAndGlyphs">December: Färre än sex ukrainska flyktingar</text>
  <text x="893" y="382.9" font-size="23" textLength="383" lengthAdjust="spacingAndGlyphs">Högsby kommun: 250 per 10 000 inv</text>
  <text x="643.5" y="592.2" font-size="23" textLength="397.5" lengthAdjust="spacingAndGlyphs">Ragunda kommun: 111 per 10 000 inv</text>

  <!-- Annotation arrows -->
  <g class="ann">
    <path d="M322.2 256.3 V314.5"/>
    <path d="M318.2 309 L322.2 315 L326.2 309"/>
    <path d="M322.2 466 V523.5"/>
    <path d="M318.2 518.3 L322.2 524.3 L326.2 518.3"/>
    <path d="M1237.8 361 V324"/>
    <path d="M1234.1 329.8 L1237.8 323.6 L1241.5 329.8"/>
    <path d="M683.9 570 V533"/>
    <path d="M680.2 538.8 L683.9 532.6 L687.6 538.8"/>
  </g>

  <!-- Source -->
  <text x="35" y="741.6" font-size="25" textLength="797.5" lengthAdjust="spacingAndGlyphs">Källa: Migrationsverket. Personer med skydd under massflyktsdirektivet.</text>

  <!-- Newsworthy logo -->
  <g id="logo">
    <path d="M1121.8 716.2 H1144.4 Q1147 716.2 1147 718.8 V739.2 Q1147 740.2 1146.2 740.8 L1135.4 749.3 Q1134.6 749.9 1134.1 749.1 L1131.4 744.9 L1120.6 741.4 Q1119.3 741 1119.3 739.6 V718.8 Q1119.3 716.2 1121.8 716.2 Z" fill="#3a8f85"/>
    <g fill="#ffffff">
      <rect x="1123.4" y="729.2" width="2.8" height="9.5" rx="1.2"/>
      <rect x="1129" y="727" width="3" height="11.7" rx="1.2"/>
      <rect x="1134.6" y="732.2" width="3" height="6.5" rx="1.2"/>
      <rect x="1140.5" y="719.8" width="2.8" height="13.6" rx="1.2"/>
      <rect x="1140.3" y="735.2" width="3.1" height="3.5" rx="1.4"/>
    </g>
    <text x="1158.5" y="736.5" font-size="23.8" textLength="136" lengthAdjust="spacingAndGlyphs" style="fill:#3a8f85;stroke:#3a8f85;stroke-width:0.6">Newsworthy</text>
  </g>
</svg>
</body>
</html>
